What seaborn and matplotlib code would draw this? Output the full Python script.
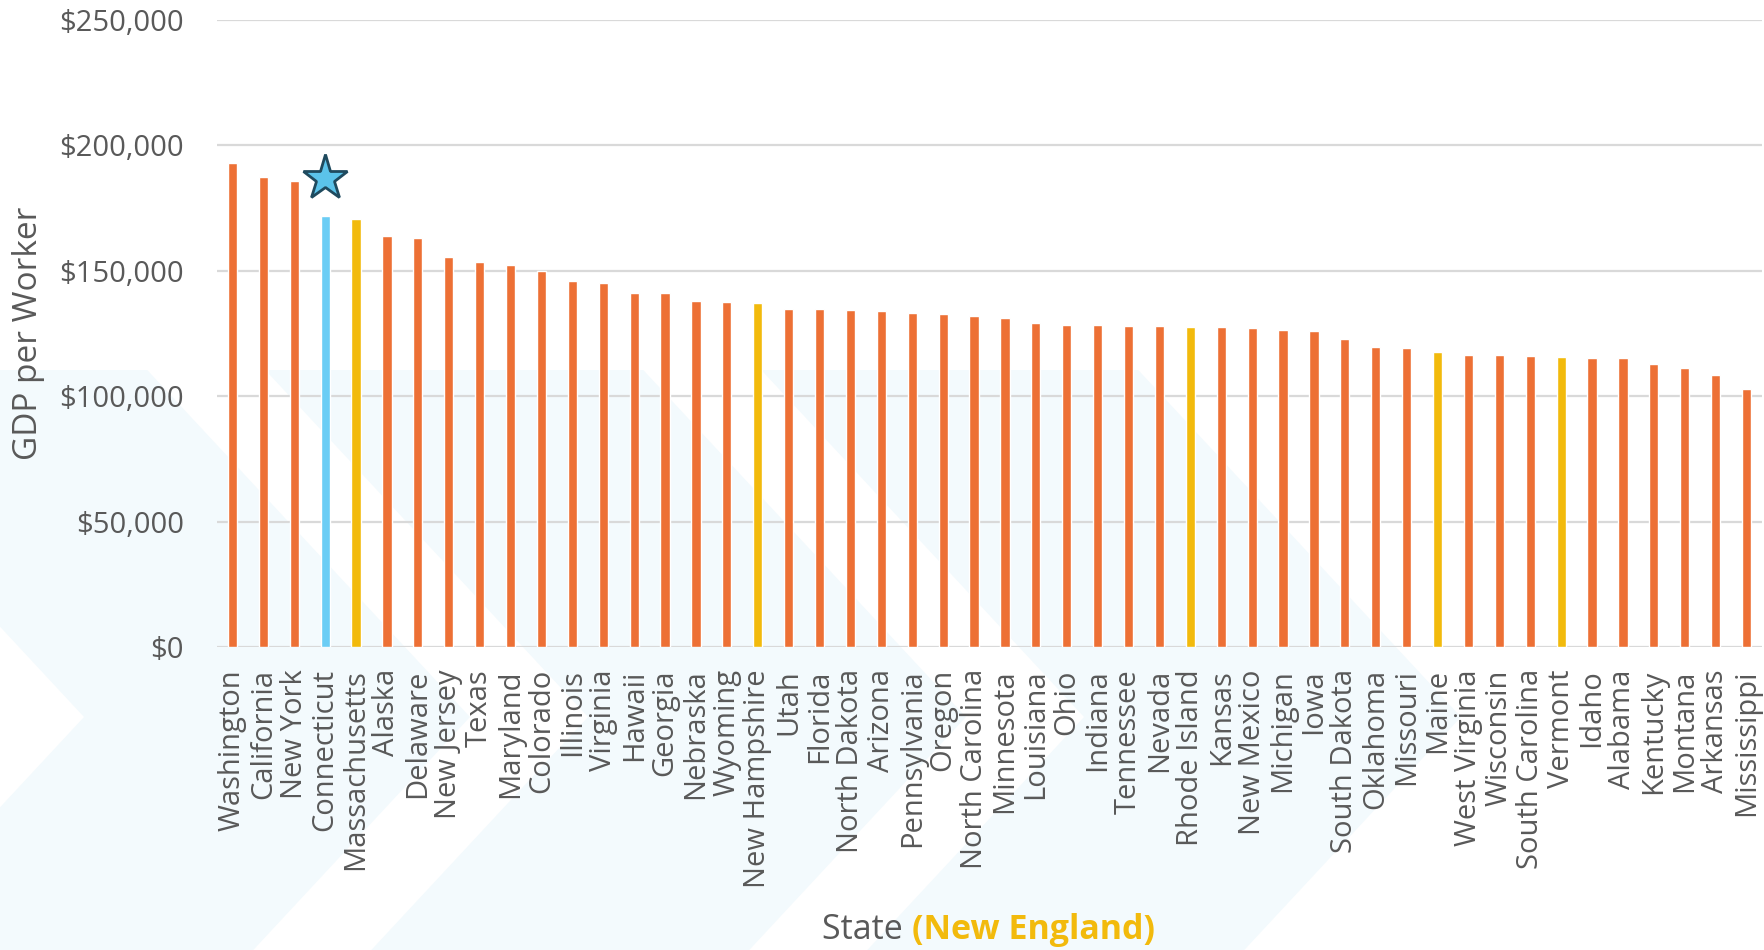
import numpy as np
import pandas as pd
import matplotlib
matplotlib.use("Agg")
import matplotlib.pyplot as plt
from matplotlib.patches import Polygon
import seaborn as sns

states = ['Washington', 'California', 'New York', 'Connecticut', 'Massachusetts',
          'Alaska', 'Delaware', 'New Jersey', 'Texas', 'Maryland', 'Colorado',
          'Illinois', 'Virginia', 'Hawaii', 'Georgia', 'Nebraska', 'Wyoming',
          'New Hampshire', 'Utah', 'Florida', 'North Dakota', 'Arizona',
          'Pennsylvania', 'Oregon', 'North Carolina', 'Minnesota', 'Louisiana',
          'Ohio', 'Indiana', 'Tennessee', 'Nevada', 'Rhode Island', 'Kansas',
          'New Mexico', 'Michigan', 'Iowa', 'South Dakota', 'Oklahoma', 'Missouri',
          'Maine', 'West Virginia', 'Wisconsin', 'South Carolina', 'Vermont',
          'Idaho', 'Alabama', 'Kentucky', 'Montana', 'Arkansas', 'Mississippi']
gdp_per_worker = [193000, 187500, 186000, 172000, 170500,
                  164000, 163000, 155500, 153700, 152400, 149900,
                  145900, 145300, 141000, 141000, 137800, 137700,
                  137000, 134700, 134600, 134200, 133800,
                  133000, 132900, 132000, 131000, 129300,
                  128500, 128400, 128000, 128000, 127500, 127500,
                  127000, 126200, 126000, 123000, 119500, 119300,
                  117800, 116600, 116300, 116000, 115500,
                  115400, 115200, 112700, 111300, 108500, 102900]
new_england = ['Connecticut', 'Massachusetts', 'New Hampshire', 'Rhode Island',
               'Maine', 'Vermont']
highlight = 'Connecticut'
star_value = 187000
y_ticks = [0, 50000, 100000, 150000, 200000, 250000]

ORANGE = '#ED7035'
GOLD = '#F2BA0C'
BLUE = '#6BCDF5'
GREY = '#595959'
PALE = '#F3FAFD'

df = pd.DataFrame({'state': states, 'gdp': gdp_per_worker})
df['group'] = np.where(df['state'] == highlight, 'highlight',
                       np.where(df['state'].isin(new_england), 'new_england', 'other'))

sns.set_theme(style='white')
plt.rcParams['font.family'] = ['Open Sans', 'DejaVu Sans']

W, H = 1765, 950
fig = plt.figure(figsize=(W / 100, H / 100), dpi=100)
fig.patch.set_facecolor('white')

# decorative pale chevrons in the background (pixel space)
bg = fig.add_axes([0, 0, 1, 1], zorder=0)
bg.set_xlim(0, W)
bg.set_ylim(H, 0)
bg.axis('off')
apex_y, top_y, slope = 717, 370, 0.93
for a1, a2 in [(84, 470), (588, 966), (1084, 1461)]:
    pts = [(a1 - slope * (apex_y - top_y), top_y), (a1, apex_y),
           (a1 - slope * (H - apex_y), H), (a2 - slope * (H - apex_y), H),
           (a2, apex_y), (a2 - slope * (apex_y - top_y), top_y)]
    bg.add_patch(Polygon(pts, closed=True, facecolor=PALE, edgecolor='none'))

ax = fig.add_axes([217 / W, 1 - 647 / H, 1545 / W, 627 / H], zorder=1)
ax.set_facecolor('none')
palette = {'other': ORANGE, 'new_england': GOLD, 'highlight': BLUE}
sns.barplot(data=df, x='state', y='gdp', hue='group', palette=palette,
            dodge=False, width=0.3, saturation=1, legend=False, ax=ax, zorder=3)

ax.plot([highlight], [star_value], marker='*', markersize=34,
        markerfacecolor='#5BC3EA', markeredgecolor='#1F4A5E',
        markeredgewidth=2, linestyle='none', zorder=4)

ax.set_ylim(0, 250000)
ax.set_xlim(-0.5, len(states) - 0.5)
ax.set_yticks(y_ticks)
ax.set_yticklabels([f'${v:,.0f}' for v in y_ticks])
ax.grid(axis='y', color='#D9D9D9', linewidth=1.6, zorder=0)
ax.set_axisbelow(True)
for sp in ax.spines.values():
    sp.set_visible(False)
ax.tick_params(axis='y', length=0, pad=24, labelsize=21, labelcolor=GREY)
ax.tick_params(axis='x', length=0, pad=16, labelsize=21, labelcolor=GREY,
               labelrotation=90)
ax.set_xlabel('')
ax.set_ylabel('GDP per Worker', fontsize=24, color=GREY)
ax.yaxis.set_label_coords((45 - 217) / 1545, 0.5)

t1 = fig.text(822 / W, 1 - 930 / H, 'State ', ha='left', va='center',
              fontsize=24.5, color=GREY)
ax.annotate('(New England)', xy=(1, 0), xycoords=t1, ha='left', va='bottom',
            fontsize=24.5, color=GOLD, fontweight='bold')

fig.savefig('out.png', dpi=100)
